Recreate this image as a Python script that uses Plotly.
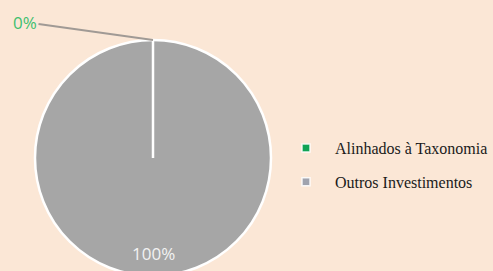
import plotly.graph_objects as go

categories = ["Alinhados à Taxonomia", "Outros Investimentos"]
values = [0, 100]
pct_labels = ["0%", "100%"]
colors = ["#12A55A", "#A6A6A6"]
legend_colors = ["#10A354", "#A0A3AE"]

W, H = 493, 280   # page is cropped to 271 px; pie runs off the bottom
bg = "#FBE7D6"

# pie placement (pixels from top-left)
cx, cy, r = 153, 158, 118
dom_x = [(cx - r) / W, (cx + r) / W]
dom_y = [(H - (cy + r)) / H, (H - (cy - r)) / H]
top_y = dom_y[1]
mid_y = (dom_y[0] + dom_y[1]) / 2
mid_x = (dom_x[0] + dom_x[1]) / 2

fig = go.Figure()
fig.add_trace(go.Pie(
    labels=categories,
    values=values,
    sort=False,
    direction="clockwise",
    rotation=0,
    textinfo="none",
    hoverinfo="label+percent",
    marker=dict(colors=colors, line=dict(color="white", width=2.5)),
    domain=dict(x=dom_x, y=dom_y),
    showlegend=False,
))

for i, (name, col) in enumerate(zip(categories, legend_colors)):
    fig.add_trace(go.Scatter(
        x=[None], y=[None], mode="markers", name=name,
        legendgroup=f"g{i}",
        marker=dict(symbol="square", size=8, color=col,
                    line=dict(color="rgba(255,255,255,0.85)", width=1.5)),
    ))

fig.update_layout(
    width=W, height=H,
    margin=dict(l=0, r=0, t=0, b=0, autoexpand=False),
    paper_bgcolor=bg, plot_bgcolor=bg,
    xaxis=dict(visible=False), yaxis=dict(visible=False),
    legend=dict(
        x=277 / W, y=(H - 131) / H, xanchor="left", yanchor="top",
        font=dict(family="Liberation Serif", size=16, color="#1A1A1A"),
        bgcolor="rgba(0,0,0,0)", tracegroupgap=10, itemwidth=48,
    ),
    shapes=[
        dict(type="line", xref="paper", yref="paper",
             x0=mid_x, x1=mid_x, y0=mid_y, y1=top_y,
             line=dict(color="white", width=2.5)),
    ],
    annotations=[
        dict(text=pct_labels[0], x=mid_x, y=top_y, xref="paper", yref="paper",
             showarrow=True, arrowhead=0, arrowwidth=2, arrowcolor="#A09A95",
             ax=-128, ay=-18,
             font=dict(family="Open Sans", size=17, color="#3EBF6F")),
        dict(text=pct_labels[1], x=mid_x, y=(H - 253) / H, xref="paper", yref="paper",
             showarrow=False, xanchor="center", yanchor="middle",
             font=dict(family="Open Sans", size=17, color="#F2F2F2")),
    ],
)

fig.write_html(
    "out.html",
    config={"displayModeBar": False},
    post_script="document.body.style.margin='0';document.body.style.overflow='hidden';",
)
